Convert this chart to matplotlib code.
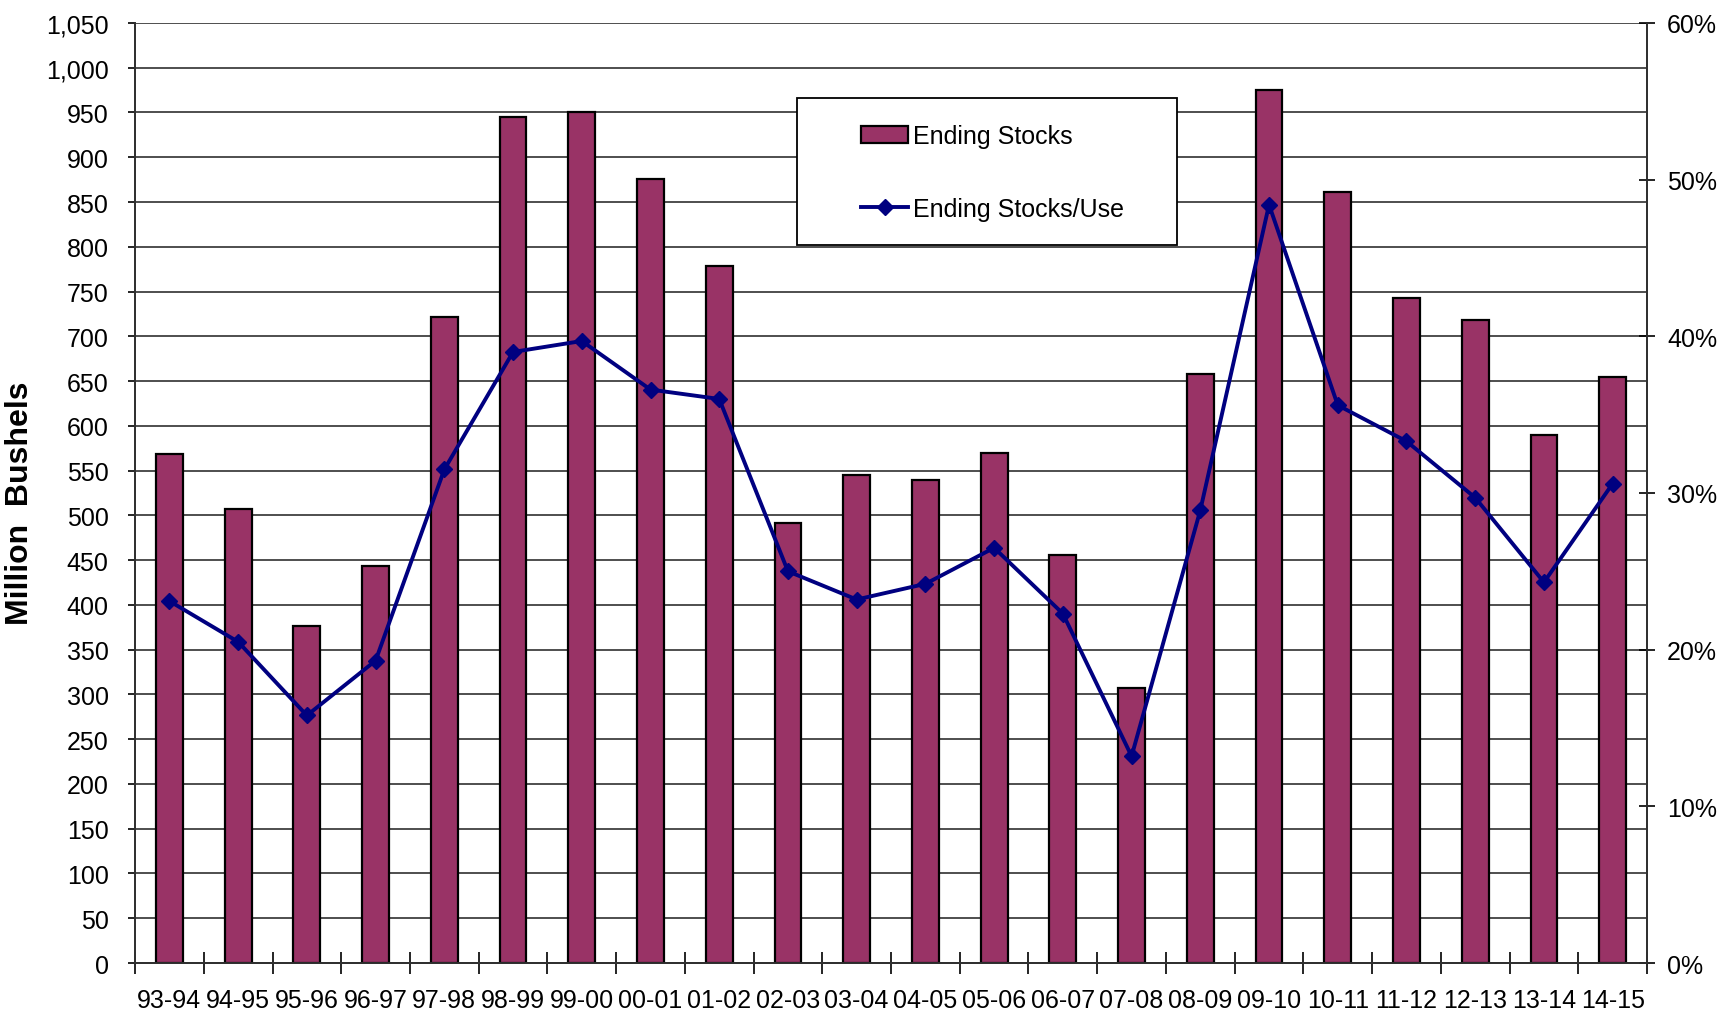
import matplotlib
matplotlib.use("Agg")
import matplotlib.pyplot as plt
from matplotlib.patches import Rectangle
from matplotlib.ticker import FuncFormatter, MultipleLocator, FixedLocator
import numpy as np

# Data
seasons = ["93-94", "94-95", "95-96", "96-97", "97-98", "98-99", "99-00", "00-01",
           "01-02", "02-03", "03-04", "04-05", "05-06", "06-07", "07-08", "08-09",
           "09-10", "10-11", "11-12", "12-13", "13-14", "14-15"]
ending_stocks = [569, 507, 376, 443, 722, 945, 951, 876, 778, 492, 545, 540,
                 570, 456, 307, 658, 975, 861, 743, 718, 590, 655]  # million bushels
stocks_to_use = [23.1, 20.5, 15.8, 19.3, 31.5, 39.0, 39.7, 36.6, 36.0, 25.0, 23.2, 24.2,
                 26.5, 22.3, 13.2, 28.9, 48.4, 35.6, 33.3, 29.7, 24.3, 30.6]  # percent

bar_color = "#993366"
line_color = "#000080"
fs = 18

plt.rcParams["font.family"] = ["Liberation Sans", "DejaVu Sans"]

fig = plt.figure(figsize=(17.27, 10.20), dpi=100)
ax = fig.add_axes([0.0782, 0.0549, 0.8755, 0.9216])
ax2 = ax.twinx()

x = np.arange(len(seasons))
ax.bar(x, ending_stocks, width=0.39, color=bar_color, edgecolor="black",
       linewidth=1.6, zorder=3, label="Ending Stocks")
ax2.plot(x, np.array(stocks_to_use) / 100, color=line_color, linewidth=2.8,
         marker="D", markersize=8, label="Ending Stocks/Use", zorder=4)

# left axis
ax.set_xlim(-0.5, len(seasons) - 0.5)
ax.set_ylim(0, 1050)
ax.yaxis.set_major_locator(MultipleLocator(50))
ax.yaxis.set_major_formatter(FuncFormatter(lambda v, p: f"{int(v):,}"))
ax.set_axisbelow(True)
ax.yaxis.grid(True, color="#404040", linewidth=1.3)
ax.tick_params(axis="y", direction="out", length=5, width=1.2, pad=14,
               labelsize=fs, colors="black")

# x: labels at bar centres, tick marks at category boundaries
ax.set_xticks(x)
ax.set_xticklabels(seasons)
ax.xaxis.set_minor_locator(FixedLocator(np.arange(len(seasons) + 1) - 0.5))
ax.tick_params(axis="x", which="major", length=0, pad=18, labelsize=fs)
ax.tick_params(axis="x", which="minor", direction="inout", length=16, width=1.2)

# right axis
ax2.set_ylim(0, 0.60)
ax2.yaxis.set_major_locator(MultipleLocator(0.10))
ax2.yaxis.set_major_formatter(FuncFormatter(lambda v, p: f"{v * 100:.0f}%"))
ax2.tick_params(axis="y", direction="inout", length=11, width=1.2, pad=9,
                labelsize=fs)

for a in (ax, ax2):
    a.spines["top"].set_visible(False)
    for s in ("left", "right", "bottom"):
        a.spines[s].set_color("#303030")
        a.spines[s].set_linewidth(1.3)

fig.text(20 / 1727, 1 - 503 / 1020, "Million  Bushels", rotation=90,
         ha="center", va="center", fontsize=23, fontweight="bold")

# legend box
box = Rectangle((0.4378, 0.764), 0.2514, 0.156, transform=ax2.transAxes,
                facecolor="white", edgecolor="black", linewidth=1.3, zorder=6)
ax2.add_patch(box)
h1, l1 = ax.get_legend_handles_labels()
h2, l2 = ax2.get_legend_handles_labels()
leg = ax2.legend(h1 + h2, l1 + l2, loc="upper left", bbox_to_anchor=(0.480, 0.892),
                 frameon=False, fontsize=fs, handlelength=1.9, handletextpad=0.2,
                 labelspacing=1.95, borderpad=0, borderaxespad=0)
leg.set_zorder(7)

fig.savefig("out.png", dpi=100)
